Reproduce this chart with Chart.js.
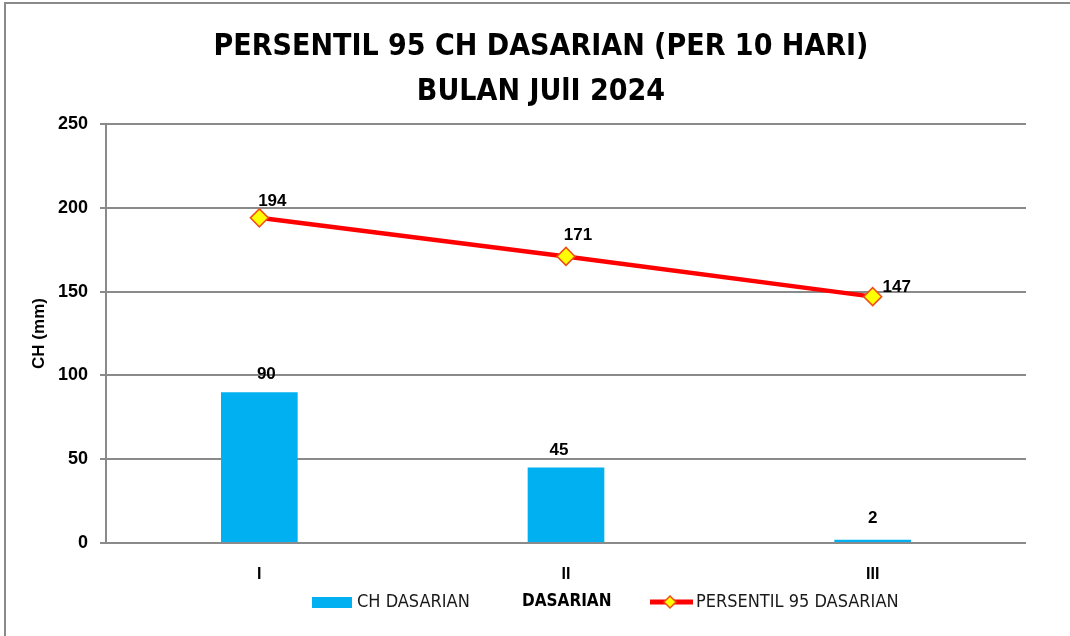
<!DOCTYPE html>
<html>
<head>
<meta charset="utf-8">
<script src="https://cdn.jsdelivr.net/npm/chart.js@4.4.1/dist/chart.umd.min.js"></script>
<style>
  html, body { margin: 0; padding: 0; background: #fff; overflow: hidden; }
  #frame { position: absolute; left: 4px; top: 2px; width: 1100px; height: 700px;
           border-top: 2px solid #8a8a8a; border-left: 2px solid #8a8a8a; }
  #box { position: absolute; left: 0; top: 0; width: 1070px; height: 636px; }
</style>
</head>
<body>
<div id="frame"></div>
<div id="box"><canvas id="grafik" width="1070" height="636"></canvas></div>
<script>
// data
const kategori = ['I', 'II', 'III'];
const chDasarian = [90, 45, 2];
const persentil95 = [194, 171, 147];
const yTicks = [0, 50, 100, 150, 200, 250];

const judul = ['PERSENTIL 95 CH DASARIAN (PER 10 HARI)', 'BULAN JUlI 2024'];

// fonts
const narrow = '"Liberation Sans Narrow", "DejaVu Sans Condensed", "Liberation Sans", sans-serif';
const sans = '"Liberation Sans", Arial, sans-serif';

// label offsets (dx, dy to baseline) like the excel layout
const barLabelOff = [[7, -13], [-7, -13], [0, -17]];
const lineLabelOff = [[13, -12], [12, -16], [24, -5]];

const ekstra = {
  id: 'ekstra',
  afterDatasetsDraw(chart) {
    const ctx = chart.ctx;
    ctx.save();
    ctx.fillStyle = '#000';
    ctx.font = 'bold 17px ' + sans;
    ctx.textAlign = 'center';
    ctx.textBaseline = 'alphabetic';
    chart.getDatasetMeta(0).data.forEach((el, i) => {
      ctx.fillText(String(chDasarian[i]), el.x + barLabelOff[i][0], el.y + barLabelOff[i][1]);
    });
    chart.getDatasetMeta(1).data.forEach((el, i) => {
      ctx.fillText(String(persentil95[i]), el.x + lineLabelOff[i][0], el.y + lineLabelOff[i][1]);
    });
    ctx.restore();
  },
  afterDraw(chart) {
    const ctx = chart.ctx;
    const area = chart.chartArea;
    ctx.save();
    // judul
    ctx.fillStyle = '#000';
    ctx.textAlign = 'center';
    ctx.textBaseline = 'alphabetic';
    ctx.font = 'bold 30px ' + narrow;
    ctx.fillText(judul[0], 541, 55);
    ctx.fillText(judul[1], 541, 100);

    // y title
    ctx.save();
    ctx.translate(39, (area.top + area.bottom) / 2);
    ctx.rotate(-Math.PI / 2);
    ctx.font = 'bold 17px ' + sans;
    ctx.textBaseline = 'middle';
    ctx.fillText('CH (mm)', 0, 0);
    ctx.restore();

    // legend
    const ly = 602;
    ctx.textAlign = 'left';
    ctx.textBaseline = 'middle';
    ctx.fillStyle = '#00B0F0';
    ctx.fillRect(312, 597, 40, 11);
    ctx.fillStyle = '#1a1a1a';
    ctx.font = '18px ' + narrow;
    ctx.fillText('CH DASARIAN', 357, ly);
    ctx.fillStyle = '#000';
    ctx.font = 'bold 17px ' + narrow;
    ctx.fillText('DASARIAN', 522, ly);
    ctx.strokeStyle = '#FF0000';
    ctx.lineWidth = 5;
    ctx.beginPath();
    ctx.moveTo(650, ly);
    ctx.lineTo(693, ly);
    ctx.stroke();
    ctx.fillStyle = '#FFFF00';
    ctx.strokeStyle = '#F04E16';
    ctx.lineWidth = 1.5;
    ctx.beginPath();
    ctx.moveTo(670, ly - 6);
    ctx.lineTo(676, ly);
    ctx.lineTo(670, ly + 6);
    ctx.lineTo(664, ly);
    ctx.closePath();
    ctx.fill();
    ctx.stroke();
    ctx.fillStyle = '#1a1a1a';
    ctx.font = '18px ' + narrow;
    ctx.fillText('PERSENTIL 95 DASARIAN', 696, ly);
    ctx.restore();
  }
};

const ctx = document.getElementById('grafik').getContext('2d');

new Chart(ctx, {
  data: {
    labels: kategori,
    datasets: [
      {
        type: 'bar',
        label: 'CH DASARIAN',
        data: chDasarian,
        backgroundColor: '#00B0F0',
        borderWidth: 0,
        barPercentage: 0.25,
        categoryPercentage: 1,
        order: 1
      },
      {
        type: 'line',
        label: 'PERSENTIL 95 DASARIAN',
        data: persentil95,
        borderColor: '#FF0000',
        borderWidth: 4.5,
        tension: 0,
        pointStyle: 'rectRot',
        pointRadius: 9,
        pointHoverRadius: 9,
        pointBackgroundColor: '#FFFF00',
        pointBorderColor: '#F04E16',
        pointBorderWidth: 1.5,
        order: 0
      }
    ]
  },
  options: {
    responsive: false,
    animation: false,
    layout: { padding: { top: 124, right: 44, left: 0, bottom: 0 } },
    plugins: {
      legend: { display: false },
      title: { display: false },
      tooltip: { enabled: false }
    },
    scales: {
      x: {
        grid: { display: false, drawTicks: false },
        border: { display: false },
        ticks: {
          color: '#000',
          padding: 22,
          font: { family: sans, size: 16, weight: 'bold' }
        },
        afterFit: s => { s.height = 93; }
      },
      y: {
        min: 0,
        max: 250,
        afterBuildTicks: s => { s.ticks = yTicks.map(v => ({ value: v })); },
        grid: { color: '#8a8a8a', lineWidth: 2, tickLength: 6 },
        border: { display: true, color: '#8a8a8a', width: 2 },
        ticks: {
          color: '#000',
          padding: 12,
          font: { family: sans, size: 18, weight: 'bold' }
        },
        afterFit: s => { s.width = 106; }
      }
    }
  },
  plugins: [ekstra]
});
</script>
</body>
</html>
